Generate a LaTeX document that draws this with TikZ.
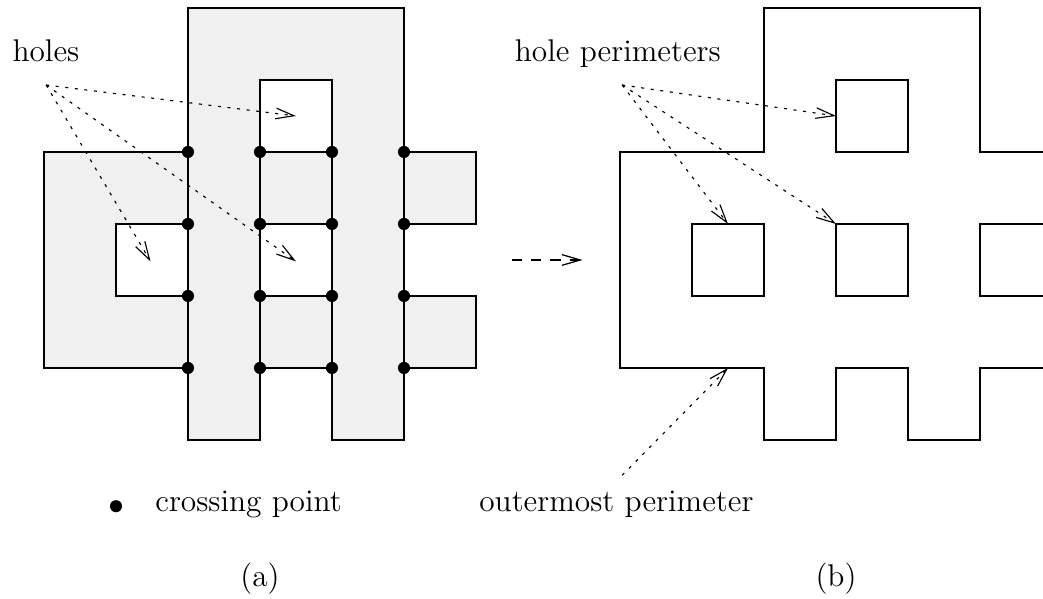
\documentclass[tikz,border=0pt]{standalone}
\usepackage{tikz}
\usetikzlibrary{arrows.meta}

\begin{document}
\begin{tikzpicture}
\tikzstyle{wall}=[draw, line width=0.6pt]
\tikzstyle{crossing}=[circle, fill=black, inner sep=0pt, minimum size=4.8pt]
\tikzstyle{pointer}=[draw, line width=0.45pt, dash pattern=on 1.2pt off 2.6pt, -{Straight Barb[length=7.2pt,width=4.2pt]}]
\tikzstyle{jump}=[draw, line width=0.5pt, dash pattern=on 4pt off 3.6pt, -{Straight Barb[length=7.2pt,width=4.2pt]}]
\tikzstyle{txt}=[font=\fontsize{12.4}{15}\selectfont, inner sep=0pt]
\useasboundingbox (-0.611,-2.208) rectangle (13.875,6.111);
\clip (-0.611,-2.208) rectangle (13.875,6.111);

% (a) the region with its holes
\path[fill=black!6, even odd rule] (0,4) -- (2,4) -- (2,6) -- (5,6) -- (5,4) -- (6,4) -- (6,3) -- (5,3) -- (5,2) -- (6,2) -- (6,1) -- (5,1) -- (5,0) -- (4,0) -- (4,1) -- (3,1) -- (3,0) -- (2,0) -- (2,1) -- (0,1) -- cycle
  (1,2) rectangle (2,3) (3,2) rectangle (4,3) (3,4) rectangle (4,5);
\path[wall] (0,4) -- (2,4) -- (2,6) -- (5,6) -- (5,4) -- (6,4) -- (6,3) -- (5,3) -- (5,2) -- (6,2) -- (6,1) -- (5,1) -- (5,0) -- (4,0) -- (4,1) -- (3,1) -- (3,0) -- (2,0) -- (2,1) -- (0,1) -- cycle;
\path[wall] (1,2) rectangle (2,3) (3,2) rectangle (4,3) (3,4) rectangle (4,5);
\foreach \x in {2,5} \path[wall] (\x,0) -- (\x,6);
\foreach \x in {3,4} \path[wall] (\x,0) -- (\x,5);
\foreach \x in {2,...,5}
  \foreach \y in {1,...,4}
    \node[crossing] (c\x\y) at (\x,\y) {};

\node[txt, anchor=base west] (holes) at (-0.444,5.25) {holes};
\coordinate (hfrom) at (0.03,4.93);
\coordinate (hole1) at (3.5,4.5);
\coordinate (hole2) at (1.48,2.48);
\coordinate (hole3) at (3.5,2.48);
\path[pointer] (hfrom) -- (hole1);
\path[pointer] (hfrom) -- (hole2);
\path[pointer] (hfrom) -- (hole3);

\node[crossing] (key) at (1,-0.92) {};
\node[txt, anchor=base west] (keytxt) at (1.54,-1) {crossing point};
\node[txt, anchor=base] (capa) at (3,-2.04) {(a)};

% step between the two views
\coordinate (ga) at (6.5,2.5);
\coordinate (gb) at (7.48,2.5);
\path[jump] (ga) -- (gb);

% (b) the perimeters only
\path[wall] (14.5,4) -- (13,4) -- (13,6) -- (10,6) -- (10,4) -- (8,4) -- (8,1) -- (10,1) -- (10,0) -- (11,0) -- (11,1) -- (12,1) -- (12,0) -- (13,0) -- (13,1) -- (14.5,1);
\path[wall] (9,2) rectangle (10,3) (11,2) rectangle (12,3) (11,4) rectangle (12,5) (13,2) rectangle (14,3);

\node[txt, anchor=base] (perims) at (7.97,5.25) {hole perimeters};
\coordinate (pfrom) at (8.03,4.93);
\coordinate (rim1) at (11,4.5);
\coordinate (rim2) at (9.5,3);
\coordinate (rim3) at (11,3);
\path[pointer] (pfrom) -- (rim1);
\path[pointer] (pfrom) -- (rim2);
\path[pointer] (pfrom) -- (rim3);

\node[txt, anchor=base] (outer) at (7.95,-1) {outermost perimeter};
\coordinate (ofrom) at (8.03,-0.49);
\coordinate (orim) at (9.5,1);
\path[pointer] (ofrom) -- (orim);
\node[txt, anchor=base] (capb) at (11,-2.04) {(b)};

\end{tikzpicture}
\end{document}
